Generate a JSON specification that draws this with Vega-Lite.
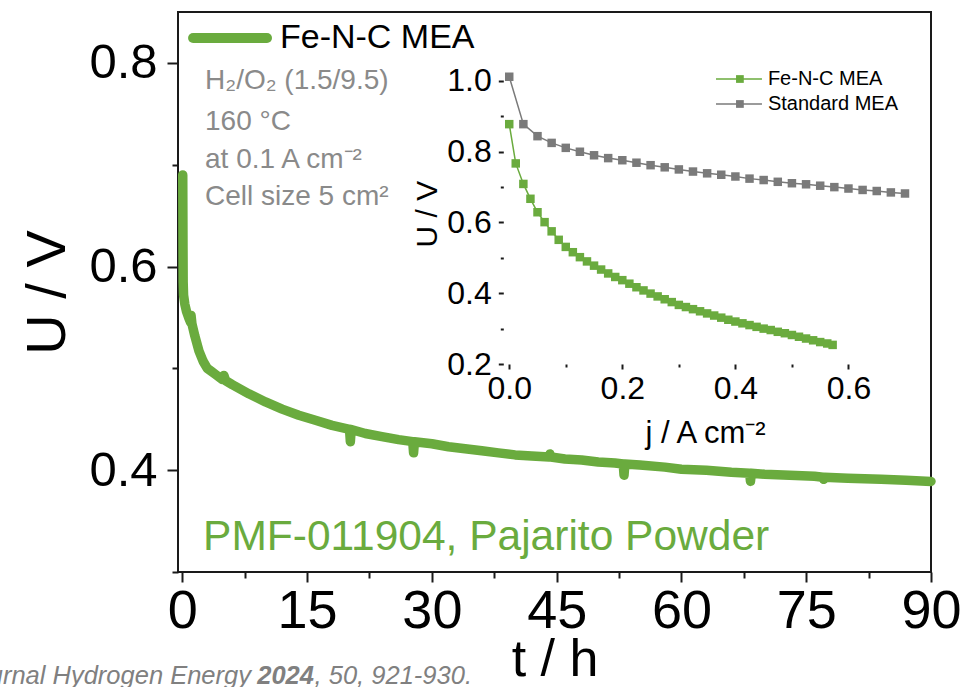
{
  "$schema": "https://vega.github.io/schema/vega-lite/v6.json",
  "width": 753,
  "height": 560,
  "autosize": "none",
  "padding": {"left": 178, "top": 12, "right": 45, "bottom": 115},
  "background": "white",
  "config": {
    "view": {"stroke": "#1a1a1a", "strokeWidth": 2},
    "font": "Liberation Sans",
    "axis": {"grid": false, "domain": false, "labelColor": "black", "titleColor": "black", "tickColor": "#1a1a1a", "titleFontWeight": "normal", "labelOverlap": false, "labelFlush": false, "labelFont": "Liberation Sans", "titleFont": "Liberation Sans"}
  },
  "datasets": {
    "main": [
      {"t": 0.05, "u": 0.69}, {"t": 0.08, "u": 0.62}, {"t": 0.1, "u": 0.585}, {"t": 0.15, "u": 0.572}, {"t": 0.3, "u": 0.563},
      {"t": 0.5, "u": 0.556}, {"t": 0.8, "u": 0.549}, {"t": 1.0, "u": 0.545}, {"t": 1.05, "u": 0.552}, {"t": 1.15, "u": 0.544},
      {"t": 1.5, "u": 0.532}, {"t": 2.0, "u": 0.517}, {"t": 2.5, "u": 0.507}, {"t": 3.0, "u": 0.5}, {"t": 3.5, "u": 0.497},
      {"t": 4.0, "u": 0.494}, {"t": 4.8, "u": 0.489}, {"t": 5.0, "u": 0.493}, {"t": 5.2, "u": 0.488}, {"t": 6, "u": 0.484},
      {"t": 8, "u": 0.475}, {"t": 10, "u": 0.467}, {"t": 12, "u": 0.46}, {"t": 14, "u": 0.454}, {"t": 16, "u": 0.449},
      {"t": 18, "u": 0.444}, {"t": 20.1, "u": 0.44}, {"t": 20.2, "u": 0.428}, {"t": 20.3, "u": 0.44}, {"t": 22, "u": 0.436},
      {"t": 24, "u": 0.433}, {"t": 26, "u": 0.43}, {"t": 27.7, "u": 0.428}, {"t": 27.8, "u": 0.417}, {"t": 27.9, "u": 0.428},
      {"t": 30, "u": 0.426}, {"t": 32, "u": 0.423}, {"t": 34, "u": 0.421}, {"t": 36, "u": 0.419}, {"t": 38, "u": 0.417},
      {"t": 40, "u": 0.415}, {"t": 42, "u": 0.414}, {"t": 44.1, "u": 0.413}, {"t": 44.2, "u": 0.416}, {"t": 44.3, "u": 0.413},
      {"t": 46, "u": 0.411}, {"t": 48, "u": 0.41}, {"t": 50, "u": 0.408}, {"t": 52, "u": 0.407}, {"t": 53.0, "u": 0.406},
      {"t": 53.1, "u": 0.395}, {"t": 53.2, "u": 0.406}, {"t": 55, "u": 0.405}, {"t": 58, "u": 0.403}, {"t": 60, "u": 0.401},
      {"t": 63, "u": 0.4}, {"t": 66, "u": 0.398}, {"t": 68.2, "u": 0.397}, {"t": 68.3, "u": 0.389}, {"t": 68.4, "u": 0.397},
      {"t": 70, "u": 0.396}, {"t": 73, "u": 0.395}, {"t": 76, "u": 0.394}, {"t": 77, "u": 0.393}, {"t": 77.1, "u": 0.391},
      {"t": 77.2, "u": 0.393}, {"t": 80, "u": 0.392}, {"t": 84, "u": 0.391}, {"t": 87, "u": 0.39}, {"t": 90, "u": 0.389}
    ],
    "mainLegend": [{"t": 1.29, "u": 0.8245}, {"t": 10.18, "u": 0.8245}],
    "notes": [
      {"t": 2.73, "u": 0.7744, "label": "H₂/O₂ (1.5/9.5)"},
      {"t": 2.73, "u": 0.7341, "label": "160 °C"},
      {"t": 2.73, "u": 0.6968, "label": "at 0.1 A cm⁻²"},
      {"t": 2.73, "u": 0.6604, "label": "Cell size 5 cm²"}
    ],
    "inset": [
      {"series": "Fe-N-C MEA", "j": 0, "u": 0.878}, {"series": "Fe-N-C MEA", "j": 0.0115, "u": 0.767},
      {"series": "Fe-N-C MEA", "j": 0.025, "u": 0.709}, {"series": "Fe-N-C MEA", "j": 0.0375, "u": 0.667},
      {"series": "Fe-N-C MEA", "j": 0.05, "u": 0.629}, {"series": "Fe-N-C MEA", "j": 0.0625, "u": 0.601},
      {"series": "Fe-N-C MEA", "j": 0.075, "u": 0.575}, {"series": "Fe-N-C MEA", "j": 0.0875, "u": 0.551},
      {"series": "Fe-N-C MEA", "j": 0.1, "u": 0.531}, {"series": "Fe-N-C MEA", "j": 0.1125, "u": 0.516},
      {"series": "Fe-N-C MEA", "j": 0.125, "u": 0.502}, {"series": "Fe-N-C MEA", "j": 0.1375, "u": 0.49},
      {"series": "Fe-N-C MEA", "j": 0.15, "u": 0.478}, {"series": "Fe-N-C MEA", "j": 0.1625, "u": 0.467},
      {"series": "Fe-N-C MEA", "j": 0.175, "u": 0.456}, {"series": "Fe-N-C MEA", "j": 0.1875, "u": 0.446},
      {"series": "Fe-N-C MEA", "j": 0.2, "u": 0.437}, {"series": "Fe-N-C MEA", "j": 0.2125, "u": 0.427},
      {"series": "Fe-N-C MEA", "j": 0.225, "u": 0.417}, {"series": "Fe-N-C MEA", "j": 0.2375, "u": 0.408},
      {"series": "Fe-N-C MEA", "j": 0.25, "u": 0.399}, {"series": "Fe-N-C MEA", "j": 0.2625, "u": 0.391},
      {"series": "Fe-N-C MEA", "j": 0.275, "u": 0.383}, {"series": "Fe-N-C MEA", "j": 0.2875, "u": 0.375},
      {"series": "Fe-N-C MEA", "j": 0.3, "u": 0.367}, {"series": "Fe-N-C MEA", "j": 0.3125, "u": 0.361},
      {"series": "Fe-N-C MEA", "j": 0.325, "u": 0.355}, {"series": "Fe-N-C MEA", "j": 0.3375, "u": 0.349},
      {"series": "Fe-N-C MEA", "j": 0.35, "u": 0.343}, {"series": "Fe-N-C MEA", "j": 0.3625, "u": 0.337},
      {"series": "Fe-N-C MEA", "j": 0.375, "u": 0.331}, {"series": "Fe-N-C MEA", "j": 0.3875, "u": 0.325},
      {"series": "Fe-N-C MEA", "j": 0.4, "u": 0.32}, {"series": "Fe-N-C MEA", "j": 0.4125, "u": 0.315},
      {"series": "Fe-N-C MEA", "j": 0.425, "u": 0.31}, {"series": "Fe-N-C MEA", "j": 0.4375, "u": 0.305},
      {"series": "Fe-N-C MEA", "j": 0.45, "u": 0.3}, {"series": "Fe-N-C MEA", "j": 0.4625, "u": 0.296},
      {"series": "Fe-N-C MEA", "j": 0.475, "u": 0.291}, {"series": "Fe-N-C MEA", "j": 0.4875, "u": 0.287},
      {"series": "Fe-N-C MEA", "j": 0.5, "u": 0.282}, {"series": "Fe-N-C MEA", "j": 0.5125, "u": 0.277},
      {"series": "Fe-N-C MEA", "j": 0.525, "u": 0.272}, {"series": "Fe-N-C MEA", "j": 0.5375, "u": 0.267},
      {"series": "Fe-N-C MEA", "j": 0.55, "u": 0.262}, {"series": "Fe-N-C MEA", "j": 0.5625, "u": 0.258},
      {"series": "Fe-N-C MEA", "j": 0.572, "u": 0.254},
      {"series": "Standard MEA", "j": 0, "u": 1.012}, {"series": "Standard MEA", "j": 0.025, "u": 0.878},
      {"series": "Standard MEA", "j": 0.05, "u": 0.844}, {"series": "Standard MEA", "j": 0.075, "u": 0.825},
      {"series": "Standard MEA", "j": 0.1, "u": 0.811}, {"series": "Standard MEA", "j": 0.125, "u": 0.8},
      {"series": "Standard MEA", "j": 0.15, "u": 0.79}, {"series": "Standard MEA", "j": 0.175, "u": 0.782},
      {"series": "Standard MEA", "j": 0.2, "u": 0.776}, {"series": "Standard MEA", "j": 0.225, "u": 0.769},
      {"series": "Standard MEA", "j": 0.25, "u": 0.762}, {"series": "Standard MEA", "j": 0.275, "u": 0.756},
      {"series": "Standard MEA", "j": 0.3, "u": 0.75}, {"series": "Standard MEA", "j": 0.325, "u": 0.744},
      {"series": "Standard MEA", "j": 0.35, "u": 0.739}, {"series": "Standard MEA", "j": 0.375, "u": 0.735},
      {"series": "Standard MEA", "j": 0.4, "u": 0.73}, {"series": "Standard MEA", "j": 0.425, "u": 0.724},
      {"series": "Standard MEA", "j": 0.45, "u": 0.72}, {"series": "Standard MEA", "j": 0.475, "u": 0.715},
      {"series": "Standard MEA", "j": 0.5, "u": 0.711}, {"series": "Standard MEA", "j": 0.525, "u": 0.708},
      {"series": "Standard MEA", "j": 0.55, "u": 0.704}, {"series": "Standard MEA", "j": 0.575, "u": 0.7},
      {"series": "Standard MEA", "j": 0.6, "u": 0.696}, {"series": "Standard MEA", "j": 0.625, "u": 0.692},
      {"series": "Standard MEA", "j": 0.65, "u": 0.689}, {"series": "Standard MEA", "j": 0.675, "u": 0.685},
      {"series": "Standard MEA", "j": 0.7, "u": 0.682}
    ],
    "insetLegend": [
      {"series": "Fe-N-C MEA", "x1": 0.3657, "x2": 0.447, "xm": 0.408, "xt": 0.4575, "y": 1.0056},
      {"series": "Standard MEA", "x1": 0.3657, "x2": 0.447, "xm": 0.408, "xt": 0.4575, "y": 0.935}
    ]
  },
  "layer": [
    {
      "resolve": {"axis": {"x": "independent", "y": "independent"}},
      "layer": [
        {
          "data": {"name": "main"},
          "mark": {"type": "line", "color": "#6aab3e", "strokeWidth": 9.5, "strokeCap": "round", "strokeJoin": "round"},
          "encoding": {
            "x": {"field": "t", "type": "quantitative", "scale": {"domain": [-0.52, 90], "nice": false, "zero": false},
              "axis": {"orient": "bottom", "values": [0, 15, 30, 45, 60, 75, 90], "title": "t / h", "labelFontSize": 54, "labelPadding": 2, "tickSize": 10, "tickWidth": 2, "titleFontSize": 52, "titlePadding": -4}},
            "y": {"field": "u", "type": "quantitative", "scale": {"domain": [0.3, 0.85], "nice": false, "zero": false},
              "axis": {"orient": "left", "values": [0.4, 0.6, 0.8], "format": ".1f", "title": "U / V", "labelFontSize": 49, "labelPadding": 10, "tickSize": 11, "tickWidth": 2, "titleFontSize": 56, "titlePadding": 12}}
          }
        },
        {
          "data": {"name": "main"},
          "mark": {"type": "point", "opacity": 0},
          "encoding": {
            "x": {"field": "t", "type": "quantitative", "scale": {"domain": [-0.52, 90], "nice": false, "zero": false},
              "axis": {"orient": "bottom", "values": [7.5, 22.5, 37.5, 52.5, 67.5, 82.5], "labels": false, "title": null, "tickSize": 6, "tickWidth": 2}},
            "y": {"field": "u", "type": "quantitative", "scale": {"domain": [0.3, 0.85], "nice": false, "zero": false},
              "axis": {"orient": "left", "values": [0.3, 0.5, 0.7], "labels": false, "title": null, "tickSize": 6, "tickWidth": 2}}
          }
        },
        {
          "data": {"name": "mainLegend"},
          "mark": {"type": "line", "color": "#6aab3e", "strokeWidth": 10, "strokeCap": "round"},
          "encoding": {
            "x": {"field": "t", "type": "quantitative", "axis": null},
            "y": {"field": "u", "type": "quantitative", "axis": null}
          }
        },
        {
          "data": {"values": [{"t": 11.74, "u": 0.8245, "label": "Fe-N-C MEA"}]},
          "mark": {"type": "text", "align": "left", "baseline": "middle", "fontSize": 34, "color": "black"},
          "encoding": {
            "x": {"field": "t", "type": "quantitative", "axis": null},
            "y": {"field": "u", "type": "quantitative", "axis": null},
            "text": {"field": "label"}
          }
        },
        {
          "data": {"name": "notes"},
          "mark": {"type": "text", "align": "left", "baseline": "alphabetic", "fontSize": 28, "color": "#8a8a8a"},
          "encoding": {
            "x": {"field": "t", "type": "quantitative", "axis": null},
            "y": {"field": "u", "type": "quantitative", "axis": null},
            "text": {"field": "label"}
          }
        },
        {
          "data": {"values": [{"t": 2.49, "u": 0.3215, "label": "PMF-011904, Pajarito Powder"}]},
          "mark": {"type": "text", "align": "left", "baseline": "alphabetic", "fontSize": 42.5, "color": "#6aab3e"},
          "encoding": {
            "x": {"field": "t", "type": "quantitative", "axis": null},
            "y": {"field": "u", "type": "quantitative", "axis": null},
            "text": {"field": "label"}
          }
        },
        {
          "data": {"values": [{"t": 8.25, "u": 0.1899, "label": "International Journal Hydrogen Energy"}]},
          "mark": {"type": "text", "align": "right", "baseline": "alphabetic", "fontSize": 25.5, "fontStyle": "italic", "color": "#808080"},
          "encoding": {
            "x": {"field": "t", "type": "quantitative", "axis": null},
            "y": {"field": "u", "type": "quantitative", "axis": null},
            "text": {"field": "label"}
          }
        },
        {
          "data": {"values": [{"t": 9.0, "u": 0.1899, "label": "2024"}]},
          "mark": {"type": "text", "align": "left", "baseline": "alphabetic", "fontSize": 25.5, "fontStyle": "italic", "fontWeight": "bold", "color": "#808080"},
          "encoding": {
            "x": {"field": "t", "type": "quantitative", "axis": null},
            "y": {"field": "u", "type": "quantitative", "axis": null},
            "text": {"field": "label"}
          }
        },
        {
          "data": {"values": [{"t": 15.9, "u": 0.1899, "label": ", 50, 921-930."}]},
          "mark": {"type": "text", "align": "left", "baseline": "alphabetic", "fontSize": 25.5, "fontStyle": "italic", "color": "#808080"},
          "encoding": {
            "x": {"field": "t", "type": "quantitative", "axis": null},
            "y": {"field": "u", "type": "quantitative", "axis": null},
            "text": {"field": "label"}
          }
        }
      ]
    },
    {
      "resolve": {"axis": {"x": "independent", "y": "independent"}},
      "layer": [
        {
          "mark": {"type": "rect", "fill": "white", "stroke": "#2a2a2a", "strokeWidth": 2},
          "encoding": {
            "x": {"datum": -0.0105, "type": "quantitative", "scale": {"domain": [-0.0105, 0.703], "range": [325.3, 728.7], "nice": false, "zero": false}, "axis": null},
            "x2": {"datum": 0.703},
            "y": {"datum": 0.2, "type": "quantitative", "scale": {"domain": [0.2, 1.05], "range": [352, 51.3], "nice": false, "zero": false}, "axis": null},
            "y2": {"datum": 1.05}
          }
        },
        {
          "data": {"name": "inset"},
          "mark": {"type": "line", "strokeWidth": 1.5},
          "encoding": {
            "x": {"field": "j", "type": "quantitative", "scale": {"domain": [-0.0105, 0.703], "range": [325.3, 728.7], "nice": false, "zero": false},
              "axis": {"orient": "bottom", "offset": -208, "values": [0, 0.2, 0.4, 0.6], "format": ".1f", "title": "j / A cm⁻²", "labelFontSize": 32, "labelPadding": 4, "tickSize": 5, "tickWidth": 2, "titleFontSize": 31, "titlePadding": 14}},
            "y": {"field": "u", "type": "quantitative", "scale": {"domain": [0.2, 1.05], "range": [352, 51.3], "nice": false, "zero": false},
              "axis": {"orient": "left", "offset": -325.3, "values": [0.2, 0.4, 0.6, 0.8, 1.0], "format": ".1f", "title": "U / V", "labelFontSize": 32, "labelPadding": 7, "tickSize": 5, "tickWidth": 2, "titleFontSize": 30, "titlePadding": 4}},
            "color": {"field": "series", "type": "nominal", "scale": {"domain": ["Fe-N-C MEA", "Standard MEA"], "range": ["#6aab3e", "#7a7a7a"]}, "legend": null}
          }
        },
        {
          "data": {"name": "inset"},
          "mark": {"type": "point", "shape": "square", "filled": true, "size": 72, "opacity": 1},
          "encoding": {
            "x": {"field": "j", "type": "quantitative", "axis": null},
            "y": {"field": "u", "type": "quantitative", "axis": null},
            "color": {"field": "series", "type": "nominal", "scale": {"domain": ["Fe-N-C MEA", "Standard MEA"], "range": ["#6aab3e", "#8a8a8a"]}, "legend": null}
          }
        },
        {
          "data": {"name": "inset"},
          "mark": {"type": "point", "opacity": 0},
          "encoding": {
            "x": {"field": "j", "type": "quantitative", "axis": {"orient": "bottom", "offset": -208, "values": [0.1, 0.3, 0.5], "labels": false, "title": null, "tickSize": 3, "tickWidth": 2}},
            "y": {"field": "u", "type": "quantitative", "axis": {"orient": "left", "offset": -325.3, "values": [0.3, 0.5, 0.7, 0.9], "labels": false, "title": null, "tickSize": 3, "tickWidth": 2}}
          }
        },
        {
          "data": {"name": "insetLegend"},
          "mark": {"type": "rule", "strokeWidth": 1.5},
          "encoding": {
            "x": {"field": "x1", "type": "quantitative", "axis": null},
            "x2": {"field": "x2"},
            "y": {"field": "y", "type": "quantitative", "axis": null},
            "color": {"field": "series", "type": "nominal", "legend": null}
          }
        },
        {
          "data": {"name": "insetLegend"},
          "mark": {"type": "point", "shape": "square", "filled": true, "size": 60, "opacity": 1},
          "encoding": {
            "x": {"field": "xm", "type": "quantitative", "axis": null},
            "y": {"field": "y", "type": "quantitative", "axis": null},
            "color": {"field": "series", "type": "nominal", "legend": null}
          }
        },
        {
          "data": {"name": "insetLegend"},
          "mark": {"type": "text", "align": "left", "baseline": "middle", "fontSize": 20, "color": "black"},
          "encoding": {
            "x": {"field": "xt", "type": "quantitative", "axis": null},
            "y": {"field": "y", "type": "quantitative", "axis": null},
            "text": {"field": "series"}
          }
        }
      ]
    }
  ],
  "resolve": {"scale": {"x": "independent", "y": "independent", "color": "independent"}, "axis": {"x": "independent", "y": "independent"}}
}
